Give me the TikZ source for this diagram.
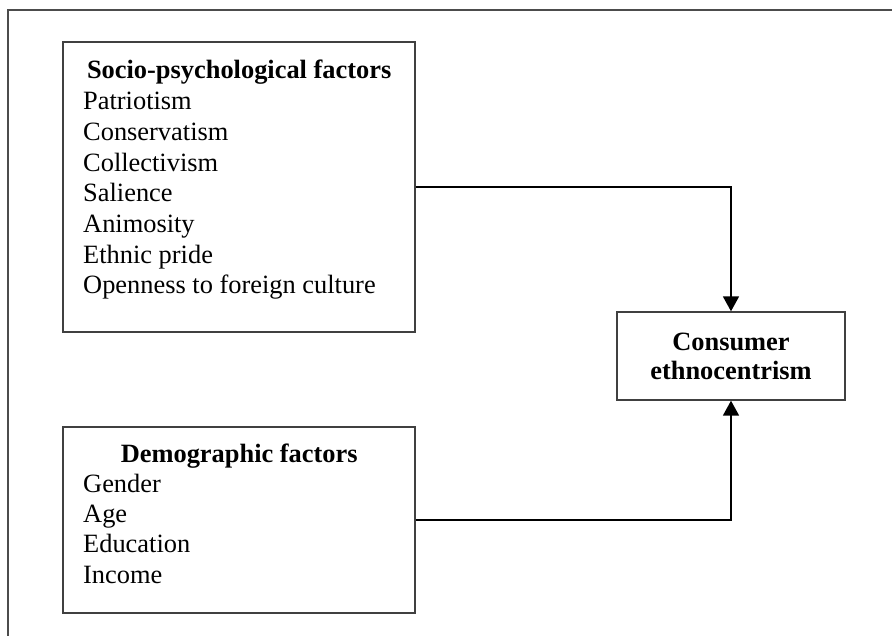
\documentclass[tikz,border=0pt]{standalone}
\usepackage{fontspec}
\setmainfont{Liberation Serif}
\usetikzlibrary{arrows.meta}
\newcommand\tightwords{\spaceskip=0.25em\relax}
\begin{document}
\begin{tikzpicture}[x=1pt,y=-1pt,
  frame/.style={draw=black!70, line width=1.6pt},
  factorbox/.style={draw=black!75, line width=1.4pt, rectangle, inner sep=0pt},
  listtext/.style={anchor=base west, inner sep=0pt, text width=312pt,
    font=\fontsize{26.4}{30.7}\selectfont},
  link/.style={draw=black, line width=1.8pt, -{Triangle[length=15pt,width=16pt]}}
]
\useasboundingbox (0,0) rectangle (892,636);
\clip (0,0) rectangle (892,636);
\fill[white] (0,0) rectangle (892,636);
% surrounding frame, open to the right and bottom
\draw[frame] (8,10) rectangle (910,660);

% factor groups
\node[factorbox, minimum width=352pt, minimum height=290pt] (socio) at (239,187) {};
\node[listtext] (sociotxt) at (83,79)
  {\tightwords\centering\textbf{Socio-psychological factors}\par\raggedright
   Patriotism\\Conservatism\\Collectivism\\Salience\\Animosity\\Ethnic pride\\Openness to foreign culture};

\node[factorbox, minimum width=352pt, minimum height=186pt] (demo) at (239,520) {};
\node[listtext, font=\fontsize{26.4}{30.3}\selectfont] (demotxt) at (83,462)
  {\tightwords\centering\textbf{Demographic factors}\par\raggedright
   Gender\\Age\\Education\\Income};

% outcome
\node[factorbox, minimum width=228pt, minimum height=88pt, align=center,
  font=\fontsize{26.4}{29}\selectfont\bfseries] (cons) at (731,356)
  {Consumer\\ethnocentrism};

% connectors
\draw[link] (socio.east) -| (cons.north);
\draw[link] (demo.east) -| (cons.south);
\end{tikzpicture}
\end{document}
